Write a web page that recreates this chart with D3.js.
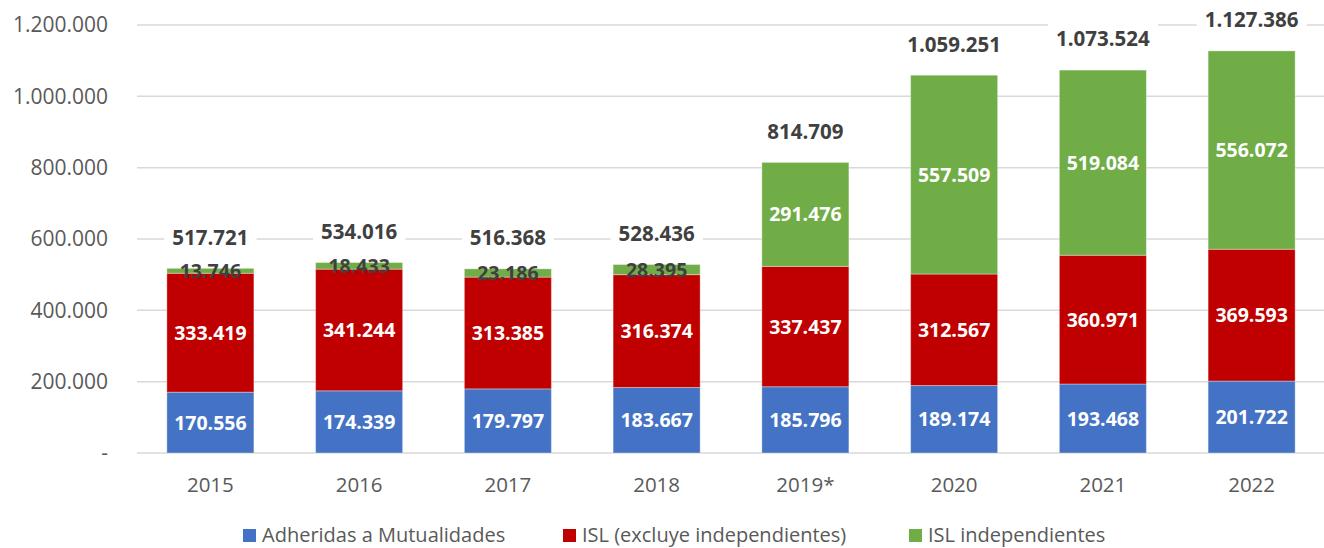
<!DOCTYPE html>
<html><head><meta charset="utf-8">
<script src="https://cdn.jsdelivr.net/npm/d3@7"></script>
<style>body{margin:0;background:#fff}svg{display:block}text{font-family:"Open Sans",sans-serif}</style>
</head><body><svg id="c" width="1324" height="548"></svg>
<script>
const categories = ["2015","2016","2017","2018","2019*","2020","2021","2022"];
const adheridas = [170556,174339,179797,183667,185796,189174,193468,201722];
const islExcluye = [333419,341244,313385,316374,337437,312567,360971,369593];
const islIndep = [13746,18433,23186,28395,291476,557509,519084,556072];
const totals = [517721,534016,516368,528436,814709,1059251,1073524,1127386];
const yTicks = [0,200000,400000,600000,800000,1000000,1200000];
const seriesNames = ["Adheridas a Mutualidades","ISL (excluye independientes)","ISL independientes"];
const colors = ["#4472C4","#C00000","#70AD47"];

(function(){
const svg = d3.select("#c");
const pLeft = 136, pRight = 1326, pTop = 25, pBottom = 453;
const x = d3.scaleBand().domain(categories).range([pLeft,pRight]).paddingInner(0.415).paddingOuter(0.2075);
const y = d3.scaleLinear().domain([0,1200000]).range([pBottom,pTop]);
const fmt = v => v===0 ? "-" : d3.format(",")(v).replace(/,/g,".");

svg.append("g").selectAll("line").data(yTicks).join("line")
  .attr("x1",pLeft+1).attr("x2",1324).attr("y1",d=>y(d)).attr("y2",d=>y(d))
  .attr("stroke","#d9d9d9").attr("stroke-width",1.5);
const yAxis = d3.axisLeft(y).tickValues(yTicks).tickFormat(fmt).tickSize(0).tickPadding(0);
const ga = svg.append("g").attr("transform",`translate(108,0)`).call(yAxis);
ga.select(".domain").remove();
ga.selectAll("text").attr("font-size",21).attr("fill","#595959").attr("font-family","Open Sans");

const data = categories.map((c,i)=>({cat:c,a:adheridas[i],b:islExcluye[i],c:islIndep[i],total:totals[i]}));
const stack = d3.stack().keys(["a","b","c"])(data);

stack.forEach((s,si)=>{
  const g = svg.append("g");
  g.selectAll("rect").data(s).join("rect")
    .attr("x",d=>x(d.data.cat)).attr("width",x.bandwidth())
    .attr("y",d=>y(d[1])).attr("height",d=>y(d[0])-y(d[1]))
    .attr("fill",colors[si]).attr("stroke","#ffffff").attr("stroke-opacity",0.35).attr("stroke-width",1);
  g.selectAll("text").data(s).join("text")
    .attr("x",d=>x(d.data.cat)+x.bandwidth()/2)
    .attr("y",d=>(y(d[0])+y(d[1]))/2)
    .attr("dy","0.36em").attr("text-anchor","middle")
    .attr("font-size",19.5).attr("font-weight","bold")
    .attr("fill",d=>(y(d[0])-y(d[1]))<25 ? "#404040" : "#ffffff")
    .text(d=>fmt(d[1]-d[0]));
});

const tg = svg.append("g");
data.forEach(d=>{
  const cx = x(d.cat)+x.bandwidth()/2, cy = y(d.a+d.b+d.c)-31;
  const t = tg.append("text").attr("x",cx).attr("y",cy).attr("dy","0.36em")
    .attr("text-anchor","middle").attr("font-size",20.5).attr("font-weight","bold")
    .attr("fill","#404040").text(fmt(d.total));
  const bb = t.node().getBBox();
  tg.insert("rect","text").attr("x",bb.x-8).attr("y",bb.y-1).attr("width",bb.width+16).attr("height",bb.height+2).attr("fill","#fff");
});
tg.selectAll("text").raise();

svg.append("g").selectAll("text").data(categories).join("text")
  .attr("x",d=>x(d)+x.bandwidth()/2).attr("y",485).attr("dy","0.36em")
  .attr("text-anchor","middle").attr("font-size",20.5).attr("fill","#595959").text(d=>d);

const lx = [243,563,909];
const lg = svg.append("g");
seriesNames.forEach((n,i)=>{
  lg.append("rect").attr("x",lx[i]).attr("y",529).attr("width",13).attr("height",13).attr("fill",colors[i]);
  lg.append("text").attr("x",lx[i]+19).attr("y",535).attr("dy","0.36em").attr("font-size",20).attr("fill","#595959").text(n);
});
})();
</script></body></html>
